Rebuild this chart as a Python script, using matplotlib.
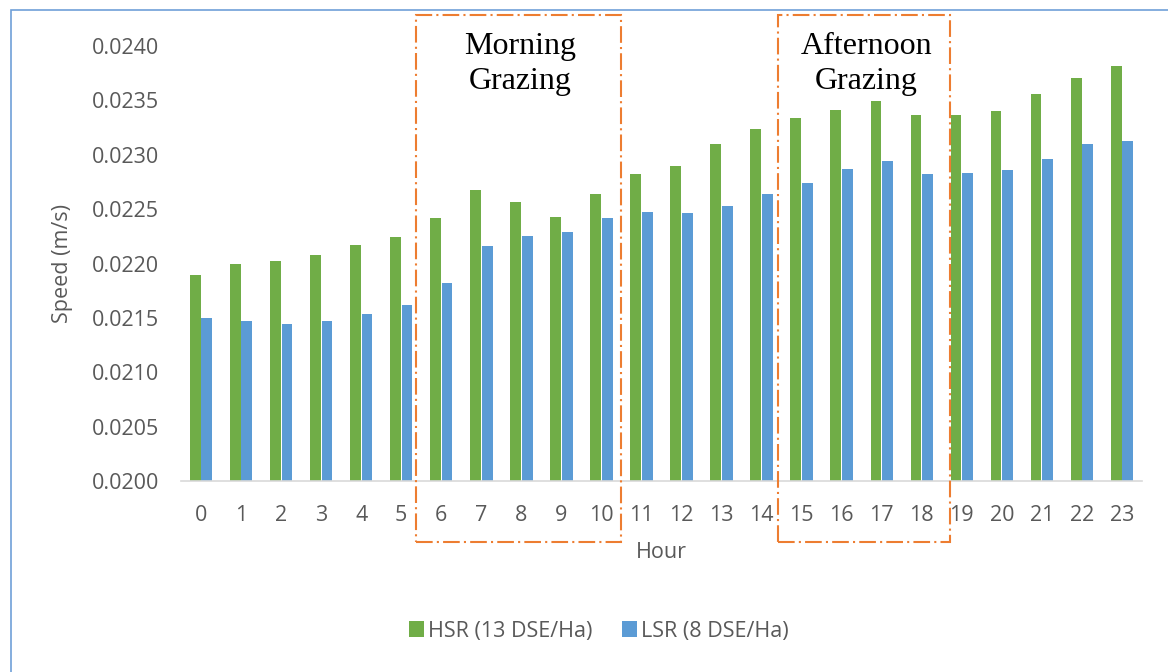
import matplotlib
matplotlib.use("Agg")
import matplotlib.pyplot as plt
from matplotlib.patches import Rectangle
from matplotlib.ticker import FormatStrFormatter, MultipleLocator
import numpy as np

# Hourly mean travel speed (m/s) under two stocking rates
hours = list(range(24))
hsr_speed = [0.02189, 0.02200, 0.02202, 0.02208, 0.02217, 0.02224,
             0.02242, 0.02268, 0.02257, 0.02243, 0.02264, 0.02282,
             0.02290, 0.02310, 0.02324, 0.02334, 0.02341, 0.02349,
             0.02337, 0.02337, 0.02340, 0.02356, 0.02371, 0.02382]
lsr_speed = [0.02150, 0.02147, 0.02144, 0.02147, 0.02154, 0.02162,
             0.02182, 0.02216, 0.02225, 0.02229, 0.02242, 0.02247,
             0.02246, 0.02253, 0.02264, 0.02274, 0.02287, 0.02294,
             0.02282, 0.02283, 0.02286, 0.02296, 0.02310, 0.02313]
series_labels = ["HSR (13 DSE/Ha)", "LSR (8 DSE/Ha)"]

# Grazing windows: (label, first hour, last hour)
grazing_windows = [("Morning\nGrazing", 6, 10), ("Afternoon\nGrazing", 15, 18)]

GREEN = "#70ad47"
BLUE = "#5b9bd5"
ORANGE = "#ed7d31"
TEXT = "#595959"
FS = 15.5

plt.rcParams["font.family"] = ["Open Sans", "DejaVu Sans"]

W, H = 1168, 672
fig = plt.figure(figsize=(W / 100, H / 100), dpi=100)
ax = fig.add_axes([181 / W, (H - 481) / H, (1142 - 181) / W, (481 - 46) / H])

x = np.arange(len(hours))
bw = 0.27
off = 0.145
ax.bar(x - off, hsr_speed, width=bw, color=GREEN, label=series_labels[0], zorder=2)
ax.bar(x + off, lsr_speed, width=bw, color=BLUE, label=series_labels[1], zorder=2)

ax.set_xlim(-0.5, len(hours) - 0.5)
ax.set_ylim(0.0200, 0.0240)
ax.yaxis.set_major_locator(MultipleLocator(0.0005))
ax.yaxis.set_major_formatter(FormatStrFormatter("%.4f"))
ax.set_xticks(x)
ax.set_xticklabels([str(h) for h in hours])
ax.tick_params(axis="both", length=0, labelsize=FS, labelcolor=TEXT)
ax.tick_params(axis="y", pad=16)
ax.tick_params(axis="x", pad=17)

for side in ("top", "right", "left"):
    ax.spines[side].set_visible(False)
ax.spines["bottom"].set_color("#d9d9d9")
ax.spines["bottom"].set_linewidth(1.2)

ax.set_xlabel("Hour", fontsize=FS, color=TEXT, labelpad=12)
ax.set_ylabel("Speed (m/s)", fontsize=FS, color=TEXT, labelpad=13)

# Dash-dot frames around the grazing periods, with their captions
frame_pad = {6: (-0.63, 0.49), 15: (-0.59, 0.71)}
y_bottom, y_top = 0.019439, 0.024285
for text, h0, h1 in grazing_windows:
    lpad, rpad = frame_pad[h0]
    left, right = h0 + lpad, h1 + rpad
    ax.add_patch(Rectangle((left, y_bottom), right - left, y_top - y_bottom,
                           fill=False, edgecolor=ORANGE, linewidth=1.5,
                           linestyle=(0, (8, 2, 1, 2)), clip_on=False, zorder=3))
    ax.text((left + right) / 2 + 0.05, 0.023835, text, ha="center", va="center",
            fontsize=23, family=["Liberation Serif", "DejaVu Serif"],
            color="black", linespacing=1.25, zorder=4)

# Legend below the plot
fig.legend(loc="center", bbox_to_anchor=(599 / W, 1 - 631 / H), ncol=2,
           frameon=False, fontsize=FS, handlelength=0.7, handleheight=0.7,
           handletextpad=0.2, columnspacing=1.35, labelcolor=TEXT)

# Chart-area border
fig.add_artist(Rectangle((11 / W, -0.05), 1.2, 1 - 10 / H + 0.05,
                         transform=fig.transFigure, fill=False,
                         edgecolor="#6fa0d8", linewidth=1.2))

fig.savefig("out.png", dpi=100, facecolor="white")
